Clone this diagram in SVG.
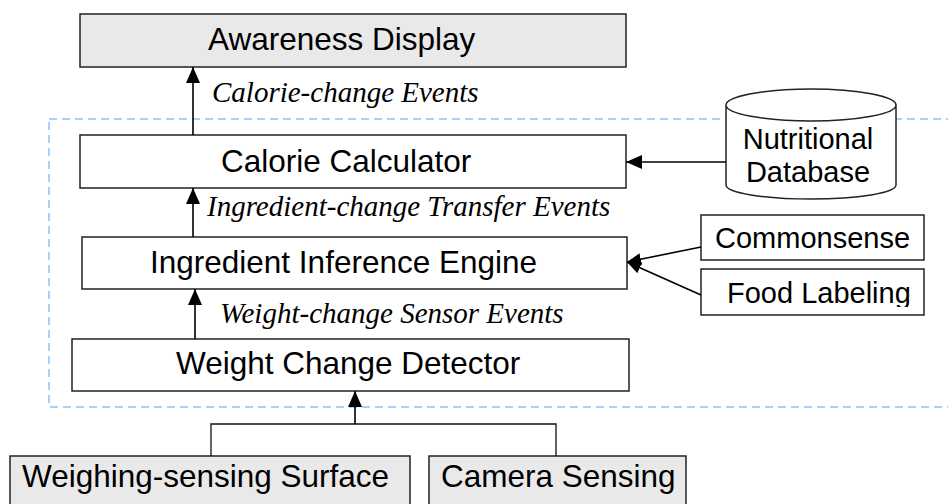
<svg xmlns="http://www.w3.org/2000/svg" width="948" height="504" viewBox="0 0 948 504">
<style>
.box{fill:#fff;stroke:#222;stroke-width:1.5}
.gray{fill:#e9e9e9}
.lbl{font-family:"Liberation Sans",Arial,sans-serif;font-size:31.5px;fill:#000}
.sm{font-size:29px}
.ev{font-family:"Liberation Serif","Times New Roman",serif;font-style:italic;font-size:29px;fill:#000}
.ln{fill:none;stroke:#000;stroke-width:1.6}
.thin{fill:none;stroke:#111;stroke-width:1.3}
</style>
<defs>
<marker id="ah" viewBox="0 0 16 14" refX="16" refY="7" markerWidth="16" markerHeight="14" markerUnits="userSpaceOnUse" orient="auto">
<path d="M0,0 L16,7 L0,14 z" fill="#000"/>
</marker>
<marker id="ahs" viewBox="0 0 14 12" refX="14" refY="6" markerWidth="14" markerHeight="12" markerUnits="userSpaceOnUse" orient="auto">
<path d="M0,0 L14,6 L0,12 z" fill="#000"/>
</marker>
<clipPath id="fclip"><rect x="702" y="270" width="222" height="37"/></clipPath>
</defs>

<rect id="boundary" x="49" y="119" width="920" height="288" fill="none" stroke="#a8d0f8" stroke-width="2" stroke-dasharray="8,5"/>

<g id="awareness-display">
<rect class="box gray" x="80" y="14" width="546" height="53"/>
<text class="lbl" x="208" y="50">Awareness Display</text>
</g>
<g id="calorie-calculator">
<rect class="box" x="80" y="135" width="546" height="53"/>
<text class="lbl" x="221" y="172">Calorie Calculator</text>
</g>
<g id="ingredient-inference-engine">
<rect class="box" x="82" y="237" width="545" height="52"/>
<text class="lbl" x="150" y="273">Ingredient Inference Engine</text>
</g>
<g id="weight-change-detector">
<rect class="box" x="72" y="339" width="557" height="52"/>
<text class="lbl" x="176" y="374">Weight Change Detector</text>
</g>
<g id="nutritional-database">
<path class="box" d="M726,105 L726,185 A85,14 0 0 0 896,185 L896,105 A85,16 0 0 0 726,105 A85,16 0 0 0 896,105"/>
<text class="lbl sm" x="808" y="149" text-anchor="middle">Nutritional</text>
<text class="lbl sm" x="808" y="182" text-anchor="middle">Database</text>
</g>
<g id="commonsense">
<rect class="box" x="701" y="215" width="223" height="45"/>
<text class="lbl sm" x="715" y="248">Commonsense</text>
</g>
<g id="food-labeling">
<rect class="box" x="701" y="269" width="223" height="46"/>
<text class="lbl sm" x="727" y="303" clip-path="url(#fclip)">Food Labeling</text>
</g>
<g id="weighing-sensing-surface">
<rect class="box gray" x="10" y="456" width="400" height="60"/>
<text class="lbl" x="22" y="487">Weighing-sensing Surface</text>
</g>
<g id="camera-sensing">
<rect class="box gray" x="429" y="456" width="257" height="60"/>
<text class="lbl" x="441" y="487">Camera Sensing</text>
</g>

<g id="connectors">
<line class="ln" x1="193" y1="135" x2="193" y2="67" marker-end="url(#ah)"/>
<text class="ev" x="212" y="102">Calorie-change Events</text>
<line class="ln" x1="193" y1="237" x2="193" y2="188" marker-end="url(#ah)"/>
<text class="ev" x="207" y="216">Ingredient-change Transfer Events</text>
<line class="ln" x1="195" y1="339" x2="195" y2="289" marker-end="url(#ah)"/>
<text class="ev" x="220" y="323">Weight-change Sensor Events</text>
<line class="ln" x1="726" y1="162" x2="626" y2="162" marker-end="url(#ah)"/>
<line class="ln" x1="701" y1="247" x2="627" y2="262" marker-end="url(#ahs)"/>
<line class="ln" x1="701" y1="295" x2="627" y2="262" marker-end="url(#ahs)"/>
<polyline class="thin" points="211,456 211,424 556,424 556,456"/>
<line class="ln" x1="355" y1="424" x2="355" y2="391" stroke-width="2.2" marker-end="url(#ah)"/>
</g>
</svg>
